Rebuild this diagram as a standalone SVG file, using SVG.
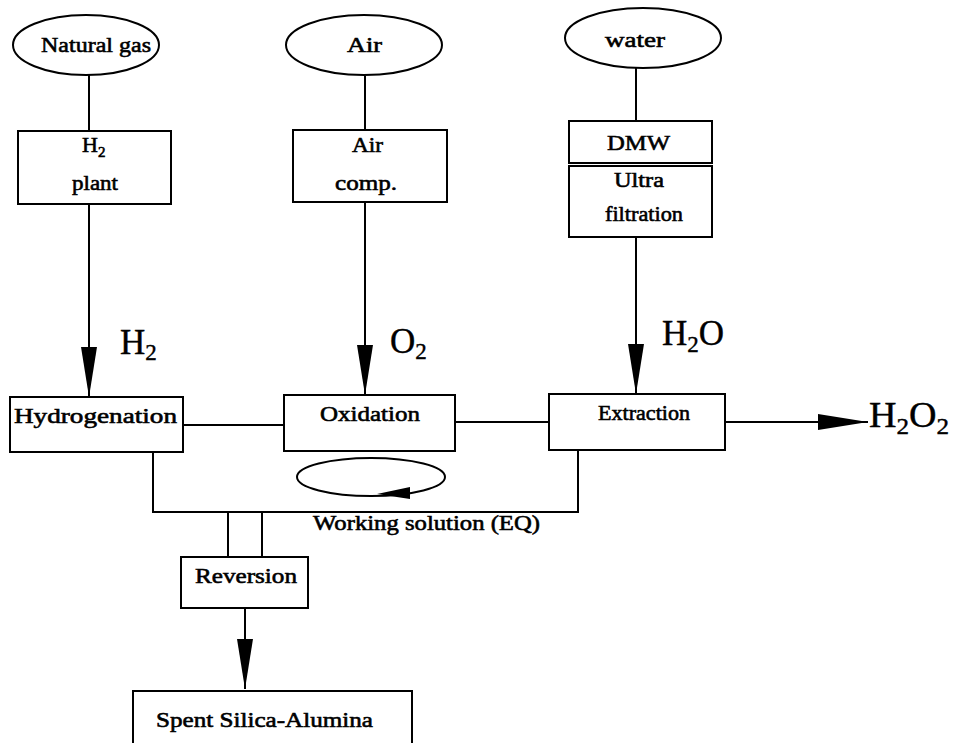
<svg xmlns="http://www.w3.org/2000/svg" width="955" height="743" viewBox="0 0 955 743">
<style>
.bx{fill:#fff;stroke:#000;stroke-width:2}
.ln{fill:none;stroke:#000;stroke-width:2}
.t{font-family:"Liberation Serif","Times New Roman",serif;font-size:22px;fill:#000;stroke:#000;stroke-width:0.6}
.big{font-family:"Liberation Serif","Times New Roman",serif;font-size:35px;fill:#000;stroke:#000;stroke-width:0.4}
.sub{font-size:23px}
</style>
<defs>
<marker id="ah" markerUnits="userSpaceOnUse" markerWidth="52" markerHeight="18" refX="50" refY="8" orient="auto" viewBox="0 0 52 18">
<path d="M0,0 L50,8 L0,16 z" fill="#000"/>
</marker>
</defs>
<rect width="955" height="743" fill="#fff"/>
<g id="connectors">
<line class="ln" x1="89" y1="75" x2="89" y2="131"/>
<line class="ln" x1="365" y1="76" x2="365" y2="130"/>
<line class="ln" x1="636" y1="68" x2="636" y2="121"/>
<line class="ln" x1="89" y1="204" x2="89" y2="397" marker-end="url(#ah)"/>
<line class="ln" x1="365" y1="202" x2="365" y2="395" marker-end="url(#ah)"/>
<line class="ln" x1="636" y1="237" x2="636" y2="394" marker-end="url(#ah)"/>
<line class="ln" x1="183" y1="425" x2="284" y2="425"/>
<line class="ln" x1="455" y1="422" x2="549" y2="422"/>
<line class="ln" x1="725" y1="422" x2="868" y2="422" marker-end="url(#ah)"/>
<polyline class="ln" points="153,452 153,512 578,512 578,450"/>
<line class="ln" x1="228" y1="512" x2="228" y2="557"/>
<line class="ln" x1="262" y1="512" x2="262" y2="557"/>
<line class="ln" x1="245" y1="608" x2="245" y2="689" marker-end="url(#ah)"/>
<ellipse class="ln" cx="371" cy="477" rx="74" ry="19"/>
<polygon points="377,494 410,487 410,499" fill="#000"/>
</g>
<g id="natural-gas">
<ellipse class="bx" cx="86" cy="45" rx="73" ry="30"/>
<text class="t" x="41" y="52" textLength="110" lengthAdjust="spacingAndGlyphs">Natural gas</text>
</g>
<g id="air">
<ellipse class="bx" cx="364" cy="45" rx="78" ry="30"/>
<text class="t" x="347" y="52" textLength="35" lengthAdjust="spacingAndGlyphs">Air</text>
</g>
<g id="water">
<ellipse class="bx" cx="643" cy="38" rx="78" ry="30"/>
<text class="t" x="605" y="47" textLength="60" lengthAdjust="spacingAndGlyphs">water</text>
</g>
<g id="h2-plant">
<rect class="bx" x="18" y="131" width="153" height="73"/>
<text class="t" x="82" y="152">H<tspan dy="5" font-size="15">2</tspan></text>
<text class="t" x="72" y="190" textLength="46" lengthAdjust="spacingAndGlyphs">plant</text>
</g>
<g id="air-comp">
<rect class="bx" x="293" y="130" width="154" height="72"/>
<text class="t" x="352" y="152" textLength="31" lengthAdjust="spacingAndGlyphs">Air</text>
<text class="t" x="335" y="190" textLength="62" lengthAdjust="spacingAndGlyphs">comp.</text>
</g>
<g id="dmw">
<rect class="bx" x="569" y="121" width="143" height="42"/>
<text class="t" x="607" y="150" textLength="63" lengthAdjust="spacingAndGlyphs">DMW</text>
</g>
<g id="ultra-filtration">
<rect class="bx" x="569" y="166" width="143" height="71"/>
<text class="t" x="614" y="187" textLength="50" lengthAdjust="spacingAndGlyphs">Ultra</text>
<text class="t" x="605" y="221" textLength="78" lengthAdjust="spacingAndGlyphs">filtration</text>
</g>
<g id="hydrogenation">
<rect class="bx" x="10" y="397" width="173" height="55"/>
<text class="t" x="14" y="423" textLength="163" lengthAdjust="spacingAndGlyphs">Hydrogenation</text>
</g>
<g id="oxidation">
<rect class="bx" x="284" y="395" width="171" height="56"/>
<text class="t" x="320" y="421" textLength="100" lengthAdjust="spacingAndGlyphs">Oxidation</text>
</g>
<g id="extraction">
<rect class="bx" x="549" y="394" width="176" height="56"/>
<text class="t" x="598" y="420" textLength="92" lengthAdjust="spacingAndGlyphs">Extraction</text>
</g>
<g id="reversion">
<rect class="bx" x="181" y="557" width="127" height="51"/>
<text class="t" x="195" y="583" textLength="102" lengthAdjust="spacingAndGlyphs">Reversion</text>
</g>
<g id="spent-silica-alumina">
<rect class="bx" x="133" y="691" width="279" height="80"/>
<text class="t" x="156" y="727" textLength="217" lengthAdjust="spacingAndGlyphs">Spent Silica-Alumina</text>
</g>
<g id="labels">
<text class="big" x="120" y="354">H<tspan class="sub" dy="6">2</tspan></text>
<text class="big" x="390" y="353">O<tspan class="sub" dy="6">2</tspan></text>
<text class="big" x="662" y="345">H<tspan class="sub" dy="7">2</tspan><tspan dy="-7">O</tspan></text>
<text class="big" x="869" y="427" textLength="80" lengthAdjust="spacingAndGlyphs">H<tspan class="sub" dy="7">2</tspan><tspan dy="-7">O</tspan><tspan class="sub" dy="7">2</tspan></text>
<text class="t" x="313" y="530" textLength="227" lengthAdjust="spacingAndGlyphs">Working solution (EQ)</text>
</g>
</svg>
